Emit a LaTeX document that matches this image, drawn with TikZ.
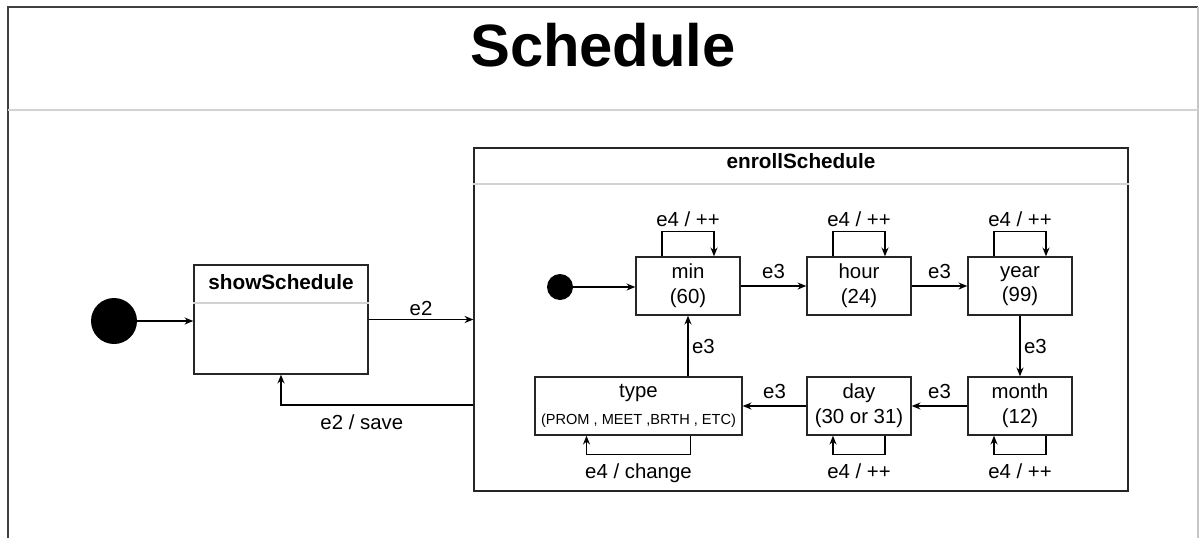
\documentclass[tikz,border=0pt]{standalone}
\usepackage{fontspec}
\setmainfont{Liberation Sans}
\usetikzlibrary{arrows.meta, positioning, calc}

\begin{document}
\begin{tikzpicture}[
  x=0.02cm, y=-0.02cm,
  sbox/.style={rectangle, draw=black!85, line width=0.8pt, minimum width=2.08cm,
               minimum height=1.16cm, align=center, inner sep=1pt,
               font=\fontsize{11.6}{14}\selectfont},
  composite/.style={rectangle, draw=black!85, line width=0.8pt},
  startdot/.style={circle, fill=black, inner sep=0pt},
  header/.style={font=\fontsize{11.8}{14}\selectfont\bfseries},
  trans/.style={font=\fontsize{11.6}{14}\selectfont, inner sep=2pt},
  arrow/.style={-{Stealth[length=5pt, width=4pt]}, line width=0.7pt, black},
  divider/.style={gray!35, line width=0.6pt}
]
  \useasboundingbox (0,0) rectangle (1200,538);
  \draw[black!75, line width=1pt] (8,538) -- (8,7) -- (1198,7);
  \draw[gray!45, line width=0.6pt] (1198,7) -- (1198,538);
  \draw[divider] (8,110) -- (1198,110);
  \node[font=\fontsize{34}{40}\selectfont\bfseries] (title) at (603,45) {Schedule};

  \node[startdot, minimum size=0.92cm] (start) at (114,321) {};
  \node[composite, minimum width=3.48cm, minimum height=2.18cm] (show) at (281,319.5) {};
  \node[header] (showname) at (281,282) {showSchedule};
  \draw[divider] (show.west |- 0,303) -- (show.east |- 0,303);

  \node[composite, minimum width=13.08cm, minimum height=6.86cm] (enroll) at (801,319.5) {};
  \node[header] (enrollname) at (801,161) {enrollSchedule};
  \draw[divider] (enroll.west |- 0,184) -- (enroll.east |- 0,184);

  \node[startdot, minimum size=0.52cm] (istart) at (560,287) {};
  \node[sbox] (min)   at (688,286)  {min\\(60)};
  \node[sbox] (hour)  at (859,286)  {hour\\(24)};
  \node[sbox] (year)  at (1020,286) {year\\(99)};
  \node[sbox] (month) at (1020,406) {month\\(12)};
  \node[sbox] (day)   at (859,406)  {day\\(30 or 31)};
  \node[sbox, minimum width=4.14cm] (type) at (638.5,406)
    {type\\[1pt]{\fontsize{8.3}{10}\selectfont (PROM , MEET ,BRTH , ETC)}};

  \draw[arrow] (start) -- (start -| show.west);
  \draw[arrow] (show) -- node[trans, above] {e2} (show -| enroll.west);
  \draw[arrow] (enroll.west |- 0,405) -| node[trans, pos=0.29, below=3pt] {e2 / save} (show.south);

  \draw[arrow] (istart) -- (istart -| min.west);
  \draw[arrow] (min)   -- node[trans, above=2pt] {e3} (hour);
  \draw[arrow] (hour)  -- node[trans, above=2pt] {e3} (year);
  \draw[arrow] (year)  -- node[trans, right] {e3} (month);
  \draw[arrow] (month) -- node[trans, above=2pt] {e3} (day);
  \draw[arrow] (day)   -- node[trans, above=2pt] {e3} (type);
  \draw[arrow] (type.north -| min) -- node[trans, right] {e3} (min);

  \draw[arrow] ($(min.north)+(-26,0)$) -- ++(0,-25) -| node[trans, pos=0.25, above] {e4 / ++} ($(min.north)+(26,0)$);
  \draw[arrow] ($(hour.north)+(-26,0)$) -- ++(0,-25) -| node[trans, pos=0.25, above] {e4 / ++} ($(hour.north)+(26,0)$);
  \draw[arrow] ($(year.north)+(-26,0)$) -- ++(0,-25) -| node[trans, pos=0.25, above] {e4 / ++} ($(year.north)+(26,0)$);
  \draw[arrow] ($(type.south)+(52,0)$) -- ++(0,19) -| node[trans, pos=0.25, below=3pt] {e4 / change} ($(type.south)+(-52,0)$);
  \draw[arrow] ($(day.south)+(26,0)$) -- ++(0,19) -| node[trans, pos=0.25, below=3pt] {e4 / ++} ($(day.south)+(-26,0)$);
  \draw[arrow] ($(month.south)+(26,0)$) -- ++(0,19) -| node[trans, pos=0.25, below=3pt] {e4 / ++} ($(month.south)+(-26,0)$);
\end{tikzpicture}
\end{document}
